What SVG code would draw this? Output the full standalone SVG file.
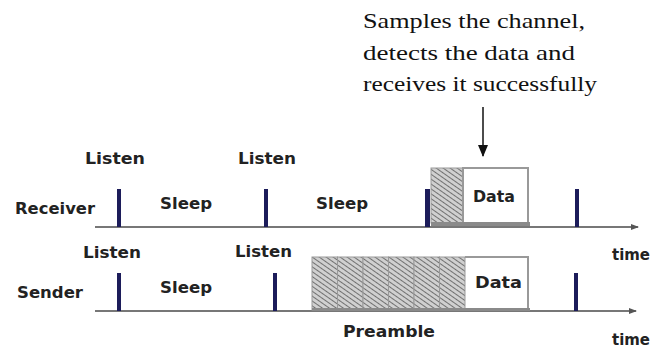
<svg xmlns="http://www.w3.org/2000/svg" width="658" height="349" viewBox="0 0 658 349">
<defs>
<style>
.lbl{font-family:"DejaVu Sans","Liberation Sans",sans-serif;font-weight:bold;font-size:15px;fill:#222}
.note{font-family:"Liberation Serif","Times New Roman",serif;font-size:21px;fill:#111}
.axis{stroke:#777;stroke-width:2;fill:none}
.bar{fill:#1c1c5a}
.box{fill:#fff;stroke:#999;stroke-width:2}
.hatch{fill:url(#h);stroke:#999;stroke-width:1}
</style>
<pattern id="h" width="4" height="4" patternUnits="userSpaceOnUse" patternTransform="rotate(-55)">
<rect width="4" height="4" fill="#d0d0d0"/>
<line x1="0" y1="0" x2="0" y2="4" stroke="#666" stroke-width="1.8"/>
</pattern>
<marker id="ax" markerWidth="8" markerHeight="6" refX="7" refY="3" orient="auto" markerUnits="userSpaceOnUse">
<path d="M0,0 L8,3 L0,6 Z" fill="#555"/>
</marker>
<marker id="ar" markerWidth="12" markerHeight="10" refX="11" refY="5" orient="auto" markerUnits="userSpaceOnUse">
<path d="M0,0 L12,5 L0,10 Z" fill="#111"/>
</marker>
</defs>
<rect width="658" height="349" fill="#fff"/>

<g id="note">
<text class="note" x="363" y="28" textLength="222" lengthAdjust="spacingAndGlyphs">Samples the channel,</text>
<text class="note" x="363" y="60" textLength="212" lengthAdjust="spacingAndGlyphs">detects the data and</text>
<text class="note" x="363" y="91" textLength="234" lengthAdjust="spacingAndGlyphs">receives it successfully</text>
</g>

<g id="connectors">
<line x1="483" y1="107" x2="483" y2="156" stroke="#111" stroke-width="1.5" marker-end="url(#ar)"/>
<line class="axis" x1="95" y1="227" x2="638" y2="227" marker-end="url(#ax)"/>
<line class="axis" x1="95" y1="311" x2="636" y2="311" marker-end="url(#ax)"/>
</g>

<g id="receiver">
<text class="lbl" x="15" y="214" textLength="80" lengthAdjust="spacingAndGlyphs">Receiver</text>
<text class="lbl" x="85" y="164" textLength="60" lengthAdjust="spacingAndGlyphs">Listen</text>
<text class="lbl" x="238" y="164" textLength="58" lengthAdjust="spacingAndGlyphs">Listen</text>
<text class="lbl" x="160" y="209" textLength="52" lengthAdjust="spacingAndGlyphs">Sleep</text>
<text class="lbl" x="316" y="209" textLength="52" lengthAdjust="spacingAndGlyphs">Sleep</text>
<rect class="bar" x="117" y="189" width="4" height="38"/>
<rect class="bar" x="264" y="189" width="4" height="38"/>
<rect class="bar" x="425" y="189" width="5" height="38"/>
<rect class="bar" x="575" y="189" width="4" height="38"/>
<rect class="hatch" x="431" y="168" width="32" height="55"/>
<rect class="box" x="463" y="168" width="65" height="55"/>
<rect x="431" y="222" width="99" height="4" fill="#8a8a8a"/>
<text class="lbl" x="473" y="202" textLength="42" lengthAdjust="spacingAndGlyphs">Data</text>
</g>

<g id="sender">
<text class="lbl" x="17" y="298" textLength="66" lengthAdjust="spacingAndGlyphs">Sender</text>
<text class="lbl" x="83" y="258" textLength="58" lengthAdjust="spacingAndGlyphs">Listen</text>
<text class="lbl" x="235" y="257" textLength="57" lengthAdjust="spacingAndGlyphs">Listen</text>
<text class="lbl" x="160" y="293" textLength="52" lengthAdjust="spacingAndGlyphs">Sleep</text>
<text class="lbl" x="612" y="260" textLength="38" lengthAdjust="spacingAndGlyphs">time</text>
<text class="lbl" x="612" y="345" textLength="38" lengthAdjust="spacingAndGlyphs">time</text>
<text class="lbl" x="343" y="337" textLength="92" lengthAdjust="spacingAndGlyphs">Preamble</text>
<rect class="bar" x="117" y="273" width="4" height="38"/>
<rect class="bar" x="273" y="273" width="4" height="38"/>
<rect class="bar" x="574" y="273" width="4" height="38"/>
<rect class="hatch" x="312" y="257" width="25.5" height="53"/>
<rect class="hatch" x="337.5" y="257" width="25.5" height="53"/>
<rect class="hatch" x="363" y="257" width="25.5" height="53"/>
<rect class="hatch" x="388.5" y="257" width="25.5" height="53"/>
<rect class="hatch" x="414" y="257" width="25.5" height="53"/>
<rect class="hatch" x="439.5" y="257" width="25.5" height="53"/>
<path d="M465,257 H528 V309" fill="#fff" stroke="#999" stroke-width="2"/>
<rect x="312" y="308" width="218" height="3" fill="#8a8a8a"/>
<text class="lbl" x="475" y="288" textLength="47" lengthAdjust="spacingAndGlyphs">Data</text>
</g>
</svg>
